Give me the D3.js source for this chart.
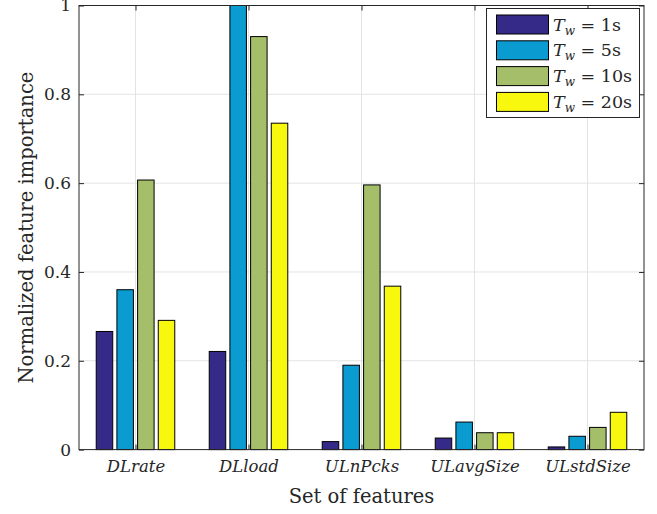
<!DOCTYPE html>
<html><head><meta charset="utf-8">
<script src="https://cdn.jsdelivr.net/npm/d3@7"></script>
<style>body{margin:0;background:#fff}svg{display:block}text{font-family:"DejaVu Serif",serif;fill:#262626}</style>
</head><body><svg id="c" width="657" height="514"></svg>
<script>
const categories = ["DLrate","DLload","ULnPcks","ULavgSize","ULstdSize"];
const seriesNames = ["1s","5s","10s","20s"];
const s1  = [0.266, 0.221, 0.018, 0.026, 0.006];
const s5  = [0.360, 1.000, 0.190, 0.062, 0.030];
const s10 = [0.607, 0.930, 0.596, 0.038, 0.050];
const s20 = [0.291, 0.735, 0.368, 0.038, 0.084];
const colors = ["#352a87","#0a9bd0","#a5be6a","#f7f80e"];
const yTicks = [0, 0.2, 0.4, 0.6, 0.8, 1];
const series = [s1, s5, s10, s20];

const svg = d3.select("#c");
const L = 79, R = 644, T = 5.5, B = 449.6;
const x = d3.scaleLinear().domain([0.5, 5.5]).range([L, R]);
const y = d3.scaleLinear().domain([0, 1]).range([B, T]);
const step = x(2) - x(1);
const barW = step * 0.146, gap = step * 0.183;
const FONT = '"DejaVu Serif",serif';

// grid
const g = svg.append("g");
g.selectAll(".gy").data(yTicks.slice(1,-1)).join("line")
  .attr("x1", L).attr("x2", R).attr("y1", d => y(d)).attr("y2", d => y(d))
  .attr("stroke", "#e3e3e3").attr("stroke-width", 1);
g.selectAll(".gx").data(categories).join("line")
  .attr("x1", (d,i) => x(i+1)).attr("x2", (d,i) => x(i+1)).attr("y1", T).attr("y2", B)
  .attr("stroke", "#e3e3e3").attr("stroke-width", 1);

// bars
series.forEach((s, k) => {
  svg.append("g").selectAll("rect").data(s).join("rect")
    .attr("x", (d,i) => x(i+1) + (k - 1.5) * gap - barW/2)
    .attr("width", barW)
    .attr("y", d => y(d))
    .attr("height", d => B - y(d))
    .attr("fill", colors[k]).attr("stroke", "#000").attr("stroke-width", 1);
});

// axes
svg.append("rect").attr("x", L).attr("y", T).attr("width", R-L).attr("height", B-T)
  .attr("fill", "none").attr("stroke", "#262626").attr("stroke-width", 1);
const yAxis = d3.axisLeft(y).tickValues(yTicks).tickSize(-5).tickPadding(8).tickFormat(d3.format("~g"));
const ya = svg.append("g").attr("transform", `translate(${L},0)`).call(yAxis);
ya.select(".domain").remove();
ya.selectAll("line").attr("stroke", "#262626");
ya.selectAll("text").attr("font-size", 17).style("font-family", FONT).attr("fill", "#262626");
const yR = svg.append("g").attr("transform", `translate(${R},0)`).call(d3.axisRight(y).tickValues(yTicks).tickSize(-5).tickFormat(""));
yR.select(".domain").remove(); yR.selectAll("line").attr("stroke","#262626");

const xAxis = d3.axisBottom(x).tickValues([1,2,3,4,5]).tickSize(-5).tickPadding(11).tickFormat((d) => categories[d-1]);
const xa = svg.append("g").attr("transform", `translate(0,${B})`).call(xAxis);
xa.select(".domain").remove();
xa.selectAll("line").attr("stroke", "#262626");
xa.selectAll("text").attr("font-size", 16.5).attr("font-style", "italic").style("font-family", FONT).attr("fill", "#262626");
const xT = svg.append("g").attr("transform", `translate(0,${T})`).call(d3.axisTop(x).tickValues([1,2,3,4,5]).tickSize(-5).tickFormat(""));
xT.select(".domain").remove(); xT.selectAll("line").attr("stroke","#262626");

svg.append("text").attr("x", (L+R)/2).attr("y", 503).attr("text-anchor", "middle")
  .attr("font-size", 19.5).text("Set of features");
svg.append("text").attr("transform", `translate(33,${(T+B)/2}) rotate(-90)`).attr("text-anchor", "middle")
  .attr("font-size", 19.5).text("Normalized feature importance");

// legend
const lg = svg.append("g");
lg.append("rect").attr("x", 486.5).attr("y", 8.5).attr("width", 153).attr("height", 109)
  .attr("fill", "#fff").attr("stroke", "#262626").attr("stroke-width", 1);
seriesNames.forEach((n, k) => {
  const cy = 24.5 + k * 25.8;
  lg.append("rect").attr("x", 496.5).attr("y", cy - 9.5).attr("width", 52).attr("height", 19)
    .attr("fill", colors[k]).attr("stroke", "#000").attr("stroke-width", 1);
  const t = lg.append("text").attr("x", 553).attr("y", cy + 6).attr("font-size", 17.5);
  t.append("tspan").attr("font-style", "italic").text("T");
  t.append("tspan").attr("font-style", "italic").attr("font-size", 12).attr("dy", 4).text("w");
  t.append("tspan").attr("dy", -4).text(" = " + n);
});
</script></body></html>
